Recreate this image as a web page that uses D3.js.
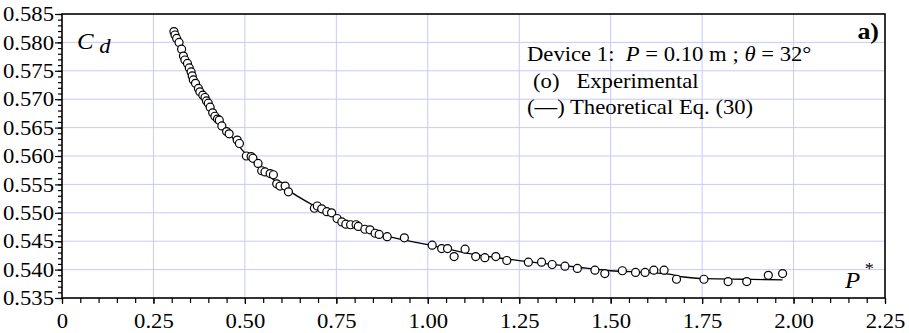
<!DOCTYPE html>
<html>
<head>
<meta charset="utf-8">
<script src="https://cdn.jsdelivr.net/npm/d3@7"></script>
<style>
  html, body { margin: 0; padding: 0; background: #ffffff; }
  svg { display: block; font-family: "Liberation Serif", "Times New Roman", serif; }
  text { white-space: pre; }
</style>
</head>
<body>
<svg id="chart" width="909" height="333"></svg>
<script>
// ===== 데이터 =====
// 실험값 (o) : P* 와 Cd
const expX = [0.306, 0.309, 0.3135, 0.320, 0.327, 0.332, 0.336, 0.343, 0.348, 0.353,
    0.356, 0.359, 0.365, 0.373, 0.377, 0.385, 0.391, 0.395, 0.400, 0.405,
    0.412, 0.418, 0.425, 0.430, 0.437, 0.450, 0.457, 0.479, 0.485, 0.504,
    0.517, 0.522, 0.536, 0.546, 0.555, 0.569, 0.578, 0.587, 0.596, 0.610,
    0.619, 0.690, 0.698, 0.710, 0.724, 0.737, 0.752, 0.765, 0.776, 0.789,
    0.804, 0.810, 0.828, 0.842, 0.856, 0.867, 0.889, 0.936, 1.012, 1.038,
    1.054, 1.072, 1.102, 1.131, 1.156, 1.186, 1.216, 1.275, 1.311, 1.340,
    1.375, 1.409, 1.457, 1.484, 1.532, 1.568, 1.594, 1.618, 1.646, 1.680,
    1.755, 1.821, 1.872, 1.931, 1.970];
const expY = [0.5819, 0.5813, 0.5807, 0.5800, 0.5788, 0.5776, 0.5769, 0.5763, 0.5755, 0.5748,
    0.5741, 0.5734, 0.5728, 0.5719, 0.5713, 0.5707, 0.5703, 0.5697, 0.5693, 0.5686,
    0.5676, 0.5670, 0.5665, 0.5663, 0.5653, 0.5643, 0.5639, 0.5628, 0.5622, 0.5600,
    0.5599, 0.5596, 0.5587, 0.5574, 0.5572, 0.5569, 0.5567, 0.5551, 0.5547, 0.5547,
    0.5537, 0.5508, 0.5512, 0.5507, 0.5502, 0.5500, 0.5490, 0.5484, 0.5480, 0.5479,
    0.5479, 0.5476, 0.5471, 0.5470, 0.5464, 0.5462, 0.5458, 0.5456, 0.5443, 0.5437,
    0.5437, 0.5423, 0.5436, 0.5423, 0.5421, 0.5423, 0.5416, 0.5413, 0.5413, 0.5409,
    0.5406, 0.5402, 0.5399, 0.5393, 0.5398, 0.5395, 0.5395, 0.5399, 0.5399, 0.5383,
    0.5383, 0.5379, 0.5379, 0.5390, 0.5393];

// 이론식 Eq. (30) 곡선 (—)
const theoX = [0.306, 0.33, 0.36, 0.40, 0.45, 0.50, 0.55, 0.60, 0.62, 0.69,
    0.75, 0.80, 0.85, 0.90, 1.00, 1.10, 1.20, 1.30, 1.40, 1.50,
    1.60, 1.66, 1.70, 1.76, 1.87, 1.97];
const theoY = [0.5821, 0.5786, 0.5744, 0.5695, 0.5646, 0.5605, 0.5573, 0.5548, 0.5539, 0.5512,
    0.5492, 0.5480, 0.5467, 0.5457, 0.5444, 0.5430, 0.5420, 0.5412, 0.5405, 0.5398,
    0.5395, 0.5392, 0.5387, 0.5384, 0.5383, 0.5382];

// 축 눈금
const xTicks = [0, 0.25, 0.5, 0.75, 1.0, 1.25, 1.5, 1.75, 2.0, 2.25];
const yTicks = [0.535, 0.540, 0.545, 0.550, 0.555, 0.560, 0.565, 0.570, 0.575, 0.580, 0.585];

// ===== 레이아웃 =====
const margin = { top: 14, right: 24, bottom: 35, left: 62 };
const width = 909, height = 333;
const innerW = width - margin.left - margin.right;
const innerH = height - margin.top - margin.bottom;
const SX = 1.08; // 원본 글자가 가로로 약간 늘어나 있어서 맞춤
const FS = 21;   // 기본 글자 크기

const svg = d3.select('#chart');
const g = svg.append('g').attr('transform', `translate(${margin.left},${margin.top})`);

const x = d3.scaleLinear().domain([0, 2.25]).range([0, innerW]);
const y = d3.scaleLinear().domain([0.535, 0.585]).range([innerH, 0]);

// 격자선 (연한 파랑)
g.append('g').selectAll('line.gx')
    .data(xTicks.slice(1, -1)).join('line')
    .attr('x1', d => x(d)).attr('x2', d => x(d))
    .attr('y1', 0).attr('y2', innerH)
    .attr('stroke', '#c8c8ff').attr('stroke-width', 1);
g.append('g').selectAll('line.gy')
    .data(yTicks.slice(1, -1)).join('line')
    .attr('x1', 0).attr('x2', innerW)
    .attr('y1', d => y(d)).attr('y2', d => y(d))
    .attr('stroke', '#c8c8ff').attr('stroke-width', 1);

// 보조 눈금
const xMinor = d3.range(0, 2.2501, 0.05);
const yMinor = d3.range(0.535, 0.58501, 0.001);
g.append('g')
    .attr('transform', `translate(0,${innerH})`)
    .call(d3.axisBottom(x).tickValues(xMinor).tickSize(5).tickFormat(''))
    .call(a => a.select('.domain').remove())
    .selectAll('line').attr('stroke', '#000').attr('stroke-width', 1.2);
g.append('g')
    .call(d3.axisLeft(y).tickValues(yMinor).tickSize(4).tickFormat(''))
    .call(a => a.select('.domain').remove())
    .selectAll('line').attr('stroke', '#000').attr('stroke-width', 1.2);

// 주 눈금 + 라벨
const xAxis = g.append('g')
    .attr('transform', `translate(0,${innerH})`)
    .call(d3.axisBottom(x).tickValues(xTicks).tickSize(6)
        .tickFormat(d => d === 0 ? '0' : d3.format('.2f')(d)));
const yAxis = g.append('g')
    .call(d3.axisLeft(y).tickValues(yTicks).tickSize(7).tickFormat(d3.format('.3f')));

[xAxis, yAxis].forEach(a => {
    a.attr('font-family', null).attr('font-size', null);
    a.select('.domain').remove();
    a.selectAll('line').attr('stroke', '#000').attr('stroke-width', 1.2);
    a.selectAll('text')
        .attr('fill', '#000')
        .style('font-family', '"Liberation Serif", serif')
        .style('font-size', FS + 'px');
});
xAxis.selectAll('text')
    .attr('y', null).attr('dy', null)
    .attr('transform', `translate(0,30) scale(${SX},1)`);
yAxis.selectAll('text')
    .attr('x', null).attr('dy', null)
    .attr('dominant-baseline', 'central')
    .attr('transform', `translate(-8,0) scale(${SX},1)`);

// 이론 곡선
const theo = theoX.map((v, i) => [v, theoY[i]]);
g.append('path')
    .datum(theo)
    .attr('fill', 'none')
    .attr('stroke', '#000')
    .attr('stroke-width', 1.3)
    .attr('d', d3.line().x(d => x(d[0])).y(d => y(d[1])).curve(d3.curveMonotoneX));

// 실험 점
g.append('g').selectAll('circle')
    .data(expX.map((v, i) => [v, expY[i]]))
    .join('circle')
    .attr('cx', d => x(d[0]))
    .attr('cy', d => y(d[1]))
    .attr('r', 4)
    .attr('fill', '#fff')
    .attr('stroke', '#000')
    .attr('stroke-width', 1.2);

// 테두리
g.append('rect')
    .attr('width', innerW).attr('height', innerH)
    .attr('fill', 'none').attr('stroke', '#000').attr('stroke-width', 1.6);

// 글자 넣기 도우미 (가로 늘림 적용)
function label(px, py, parts, opts = {}) {
    const t = svg.append('text')
        .attr('transform', `translate(${px},${py}) scale(${SX},1)`)
        .attr('text-anchor', opts.anchor || 'start')
        .style('font-size', (opts.size || FS) + 'px')
        .attr('fill', '#000');
    parts.forEach(p => {
        const s = t.append('tspan').text(p.t);
        if (p.i) s.style('font-style', 'italic');
        if (p.b) s.style('font-weight', 'bold');
        if (p.dy) s.attr('dy', p.dy);
        if (p.size) s.style('font-size', p.size + 'px');
    });
    return t;
}

// 축 이름
label(77, 49, [{ t: 'C', i: true, size: 23 }, { t: ' ' }, { t: 'd', i: true, dy: 4 }]);
label(845, 288, [{ t: 'P', i: true, size: 23 }, { t: ' *', dy: -14, size: 17 }]);

// 패널 표시
label(879, 39, [{ t: 'a)', b: true }], { anchor: 'end', size: 24 });

// 범례
label(527, 61, [{ t: 'Device 1:  ' }, { t: 'P', i: true }, { t: ' = 0.10 m ; ' },
    { t: 'θ', i: true }, { t: ' = 32°' }]);
label(533, 88, [{ t: '(o)   Experimental' }]);
label(527, 114, [{ t: '(—) Theoretical Eq. (30)' }]);
</script>
</body>
</html>
